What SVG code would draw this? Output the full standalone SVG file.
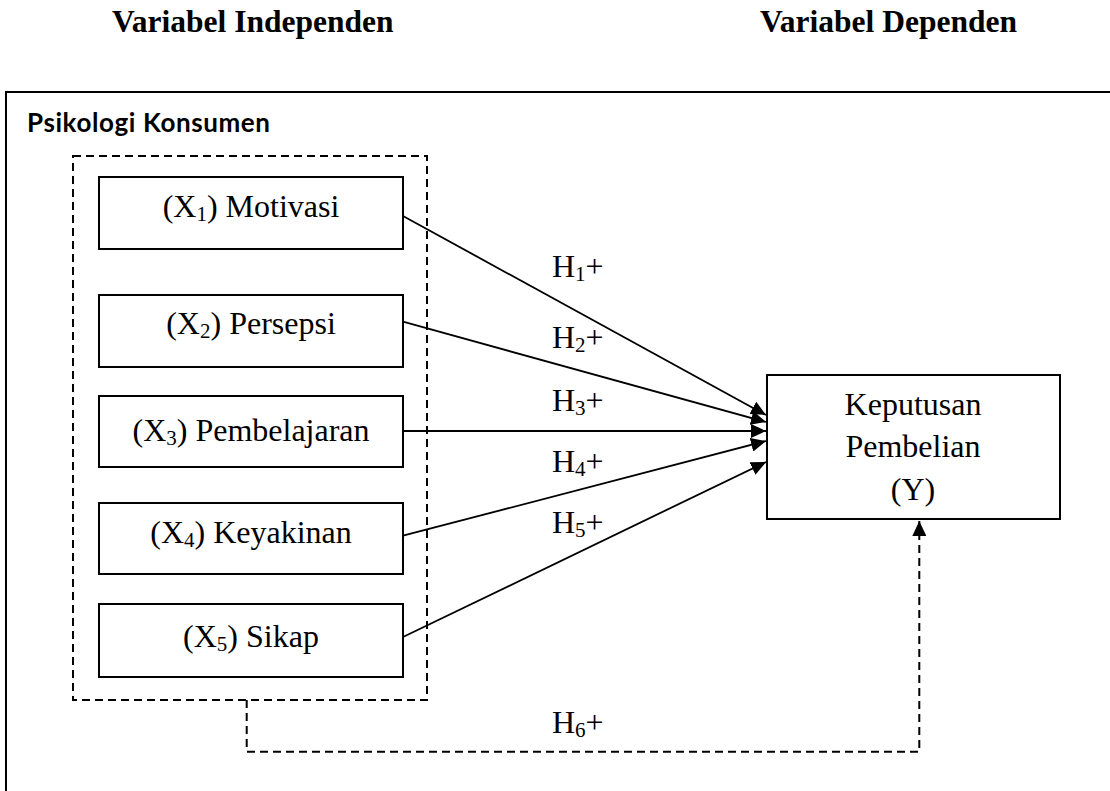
<svg xmlns="http://www.w3.org/2000/svg" width="1110" height="791" viewBox="0 0 1110 791">
<style>
.t{font-family:"Liberation Serif","Times New Roman",serif;font-size:32px;fill:#000}
.h{font-family:"Liberation Serif","Times New Roman",serif;font-size:31.5px;font-weight:bold;fill:#000}
.b{fill:#fff;stroke:#000;stroke-width:2}
.d{fill:none;stroke:#000;stroke-width:2;stroke-dasharray:8 5}
.c{fill:none;stroke:#000;stroke-width:1.8}
.s{font-size:21px}
</style>
<defs>
<marker id="ah" markerUnits="userSpaceOnUse" markerWidth="16" markerHeight="14" refX="15" refY="7" orient="auto">
<path d="M0,0 L15,7 L0,14 Z" fill="#000"/>
</marker>
</defs>
<rect width="1110" height="791" fill="#fff"/>
<text class="h" x="112" y="32">Variabel Independen</text>
<text class="h" x="760" y="32">Variabel Dependen</text>
<g id="outer">
<rect x="6" y="92" width="1120" height="720" fill="none" stroke="#000" stroke-width="2"/>
<text x="27" y="132" font-family="Lato,'Liberation Sans',sans-serif" font-weight="bold" font-size="26" textLength="243">Psikologi Konsumen</text>
</g>
<g id="group-x">
<rect class="d" x="73" y="156" width="354" height="544"/>
</g>
<g id="x1">
<rect class="b" x="99" y="177" width="304" height="72"/>
<text class="t" x="251" y="217" text-anchor="middle">(X<tspan class="s" dy="4">1</tspan><tspan dy="-4">) Motivasi</tspan></text>
</g>
<g id="x2">
<rect class="b" x="99" y="295" width="304" height="72"/>
<text class="t" x="251" y="334" text-anchor="middle">(X<tspan class="s" dy="4">2</tspan><tspan dy="-4">) Persepsi</tspan></text>
</g>
<g id="x3">
<rect class="b" x="99" y="396" width="304" height="71"/>
<text class="t" x="251" y="441" text-anchor="middle">(X<tspan class="s" dy="4">3</tspan><tspan dy="-4">) Pembelajaran</tspan></text>
</g>
<g id="x4">
<rect class="b" x="99" y="503" width="304" height="71"/>
<text class="t" x="251" y="543" text-anchor="middle">(X<tspan class="s" dy="4">4</tspan><tspan dy="-4">) Keyakinan</tspan></text>
</g>
<g id="x5">
<rect class="b" x="99" y="604" width="304" height="73"/>
<text class="t" x="251" y="647" text-anchor="middle">(X<tspan class="s" dy="4">5</tspan><tspan dy="-4">) Sikap</tspan></text>
</g>
<g id="y">
<rect class="b" x="767" y="375" width="293" height="144"/>
<text class="t" x="913" y="415" text-anchor="middle">Keputusan</text>
<text class="t" x="913" y="457" text-anchor="middle">Pembelian</text>
<text class="t" x="913" y="500" text-anchor="middle">(Y)</text>
</g>
<g id="connectors">
<line class="c" x1="403" y1="216" x2="766" y2="415" marker-end="url(#ah)"/>
<line class="c" x1="403" y1="321.7" x2="766" y2="422" marker-end="url(#ah)"/>
<line class="c" x1="403" y1="431" x2="766" y2="431" marker-end="url(#ah)"/>
<line class="c" x1="403" y1="535.7" x2="766" y2="441" marker-end="url(#ah)"/>
<line class="c" x1="403" y1="637" x2="766" y2="462" marker-end="url(#ah)"/>
<path class="d" d="M246.7,700 V751.7 H919.3 V521" marker-end="url(#ah)"/>
<text class="t" x="552" y="277">H<tspan class="s" dy="4">1</tspan><tspan dy="-4">+</tspan></text>
<text class="t" x="552" y="348">H<tspan class="s" dy="4">2</tspan><tspan dy="-4">+</tspan></text>
<text class="t" x="552" y="411">H<tspan class="s" dy="4">3</tspan><tspan dy="-4">+</tspan></text>
<text class="t" x="552" y="472">H<tspan class="s" dy="4">4</tspan><tspan dy="-4">+</tspan></text>
<text class="t" x="552" y="533">H<tspan class="s" dy="4">5</tspan><tspan dy="-4">+</tspan></text>
<text class="t" x="552" y="733">H<tspan class="s" dy="4">6</tspan><tspan dy="-4">+</tspan></text>
</g>
</svg>
